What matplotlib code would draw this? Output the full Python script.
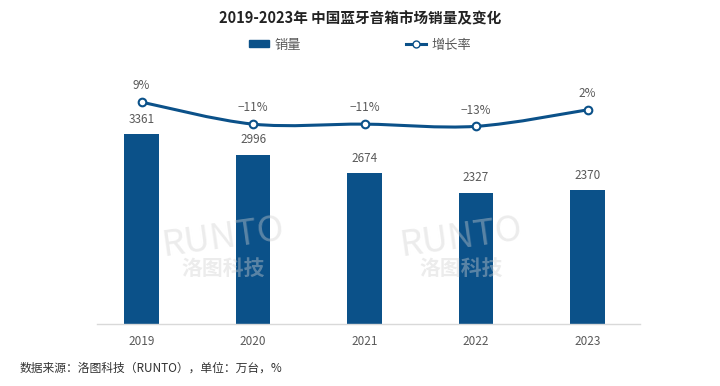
import numpy as np
import matplotlib.pyplot as plt
from matplotlib.path import Path
from matplotlib.patches import PathPatch, Patch
from matplotlib.lines import Line2D

plt.rcParams['font.family'] = ['Noto Sans CJK SC', 'DejaVu Sans']

# data
years = ['2019', '2020', '2021', '2022', '2023']
sales = [3361, 2996, 2674, 2327, 2370]
growth = [9, -11, -11, -13, 2]
growth_labels = ['9%', '−11%', '−11%', '−13%', '2%']

blue = '#0B5189'
grey = '#595959'

fig = plt.figure(figsize=(7.2, 3.86), dpi=100)
ax = fig.add_axes([97 / 720, 1 - 324 / 386, 543 / 720, 264 / 386])
x = np.arange(len(years))

ax.bar(x, sales, width=0.31, color=blue, label='销量', zorder=2)
for xi, v in zip(x, sales):
    ax.annotate(str(v), (xi, v), xytext=(0, 6), textcoords='offset points',
                ha='center', va='bottom', fontsize=8.5, color=grey)
ax.set_xlim(-0.4, 4.47)
ax.set_ylim(0, 4672)
ax.set_yticks([])
ax.set_xticks(x)
ax.set_xticklabels(years, fontsize=8.5, color=grey)
ax.tick_params(axis='x', length=0, pad=8)
for s in ['top', 'right', 'left']:
    ax.spines[s].set_visible(False)
ax.spines['bottom'].set_color('#D9D9D9')
ax.spines['bottom'].set_linewidth(1)

# growth rate on secondary axis, smoothed with bezier segments
ax2 = ax.twinx()
ax2.set_ylim(-192.7, 47.3)
ax2.set_yticks([])
for s in ax2.spines.values():
    s.set_visible(False)

px = x.astype(float)
py = np.array(growth, dtype=float)
verts = [(px[0], py[0])]
codes = [Path.MOVETO]
n = len(px)
for i in range(n - 1):
    p0 = (px[max(i - 1, 0)], py[max(i - 1, 0)])
    p1 = (px[i], py[i])
    p2 = (px[i + 1], py[i + 1])
    p3 = (px[min(i + 2, n - 1)], py[min(i + 2, n - 1)])
    c1 = (p1[0] + (p2[0] - p0[0]) / 6, p1[1] + (p2[1] - p0[1]) / 6)
    c2 = (p2[0] - (p3[0] - p1[0]) / 6, p2[1] - (p3[1] - p1[1]) / 6)
    verts += [c1, c2, p2]
    codes += [Path.CURVE4] * 3
ax2.add_patch(PathPatch(Path(verts, codes), facecolor='none', edgecolor=blue,
                        linewidth=2.2, zorder=3))
ax2.plot(px, py, linestyle='none', marker='o', markersize=5.5,
         markerfacecolor='white', markeredgecolor=blue, markeredgewidth=1.5, zorder=4)
for xi, g, lab in zip(px, growth, growth_labels):
    ax2.annotate(lab, (xi, g), xytext=(0, 7), textcoords='offset points',
                 ha='center', va='bottom', fontsize=8.5, color=grey)

# legend
handles = [Patch(color=blue),
           Line2D([0], [0], color=blue, lw=2.2, marker='o', markersize=5,
                  markerfacecolor='white', markeredgecolor=blue)]
fig.legend(handles, ['销量', '增长率'], loc='center', bbox_to_anchor=(0.5, 1 - 45 / 386),
           ncol=2, frameon=False, fontsize=9.5, columnspacing=8, handlelength=1.5,
           handleheight=0.45, handletextpad=0.4, labelcolor=grey)

# watermark
for wx in [0.31, 0.64]:
    fig.text(wx, 1 - 238 / 386, 'RUNTO', fontsize=26, color='#D0D0D0', alpha=0.4,
             ha='center', va='center', style='italic', rotation=8)
    fig.text(wx, 1 - 268 / 386, '洛图科技', fontsize=15, color='#D0D0D0', alpha=0.4,
             ha='center', va='center', fontweight='bold')

fig.text(0.5, 1 - 18 / 386, '2019-2023年 中国蓝牙音箱市场销量及变化', ha='center',
         va='center', fontsize=10.5, fontweight='bold', color='#222222')
fig.text(20 / 720, 1 - 368 / 386, '数据来源：洛图科技（RUNTO），单位：万台，%',
         ha='left', va='center', fontsize=8.5, color='#333333')

fig.savefig('out.png', dpi=100)
